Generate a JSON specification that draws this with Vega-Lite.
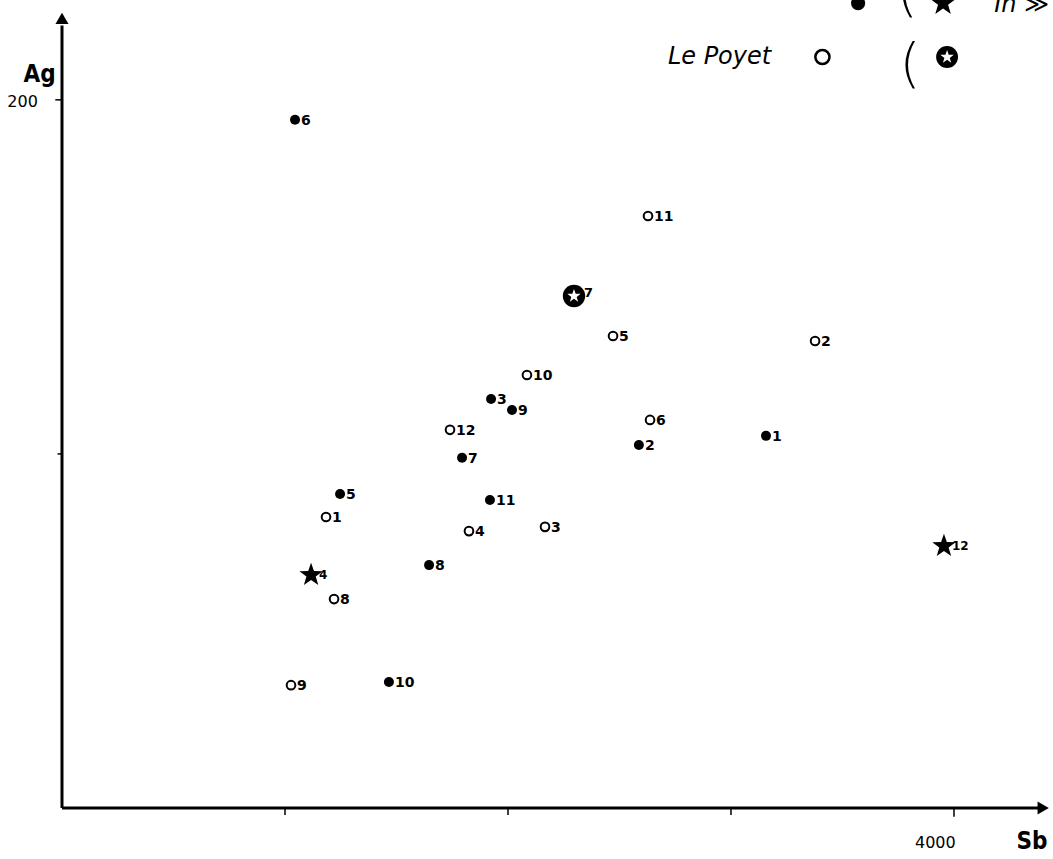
{
  "$schema": "https://vega.github.io/schema/vega-lite/v6.json",
  "width": 1053,
  "height": 859,
  "autosize": {"type": "none"},
  "padding": 0,
  "background": "white",
  "config": {"view": {"stroke": null}},
  "datasets": {
    "points": [
      {"grp": "C", "lab": "1", "sym": "dot", "sb": 3157, "ag": 105.1},
      {"grp": "C", "lab": "2", "sym": "dot", "sb": 2587, "ag": 102.5},
      {"grp": "C", "lab": "3", "sym": "dot", "sb": 1924, "ag": 115.5},
      {"grp": "C", "lab": "4", "sym": "star", "sb": 1117, "ag": 65.8},
      {"grp": "C", "lab": "5", "sym": "dot", "sb": 1247, "ag": 88.7},
      {"grp": "C", "lab": "6", "sym": "dot", "sb": 1045, "ag": 194.4},
      {"grp": "C", "lab": "7", "sym": "dot", "sb": 1794, "ag": 98.9},
      {"grp": "C", "lab": "8", "sym": "dot", "sb": 1646, "ag": 68.6},
      {"grp": "C", "lab": "9", "sym": "dot", "sb": 2018, "ag": 112.4},
      {"grp": "C", "lab": "10", "sym": "dot", "sb": 1466, "ag": 35.6},
      {"grp": "C", "lab": "11", "sym": "dot", "sb": 1919, "ag": 87.0},
      {"grp": "C", "lab": "12", "sym": "star", "sb": 3955, "ag": 74.0},
      {"grp": "P", "lab": "1", "sym": "ring", "sb": 1184, "ag": 82.2},
      {"grp": "P", "lab": "2", "sym": "ring", "sb": 3377, "ag": 131.9},
      {"grp": "P", "lab": "3", "sym": "ring", "sb": 2166, "ag": 79.4},
      {"grp": "P", "lab": "4", "sym": "ring", "sb": 1825, "ag": 78.2},
      {"grp": "P", "lab": "5", "sym": "ring", "sb": 2471, "ag": 133.3},
      {"grp": "P", "lab": "6", "sym": "ring", "sb": 2637, "ag": 109.6},
      {"grp": "P", "lab": "7", "sym": "bigstar", "sb": 2296, "ag": 144.6},
      {"grp": "P", "lab": "8", "sym": "ring", "sb": 1220, "ag": 59.0},
      {"grp": "P", "lab": "9", "sym": "ring", "sb": 1027, "ag": 34.7},
      {"grp": "P", "lab": "10", "sym": "ring", "sb": 2085, "ag": 122.3},
      {"grp": "P", "lab": "11", "sym": "ring", "sb": 2628, "ag": 167.2},
      {"grp": "P", "lab": "12", "sym": "ring", "sb": 1740, "ag": 106.8}
    ],
    "axes": [
      {"sb": 0, "ag": 0, "sb2": 4380, "ag2": 0},
      {"sb": 0, "ag": 0, "sb2": 0, "ag2": 221}
    ],
    "ticks": [
      {"sb": 1000, "ag": 0, "sb2": 1000, "ag2": -2},
      {"sb": 2000, "ag": 0, "sb2": 2000, "ag2": -2},
      {"sb": 3000, "ag": 0, "sb2": 3000, "ag2": -2},
      {"sb": 4000, "ag": 0, "sb2": 4000, "ag2": -2.5},
      {"sb": 0, "ag": 200, "sb2": -30, "ag2": 200},
      {"sb": 0, "ag": 100, "sb2": -20, "ag2": 100}
    ],
    "arrows": [
      {"sb": 4400, "ag": 0, "shape": "triangle-right"},
      {"sb": 0, "ag": 223, "shape": "triangle-up"}
    ],
    "texts": [
      {"sb": -100, "ag": 207, "t": "Ag", "kind": "axis"},
      {"sb": 4350, "ag": -9.5, "t": "Sb", "kind": "axis"},
      {"sb": -245, "ag": 199.3, "t": "200", "kind": "tick"},
      {"sb": 3825, "ag": -9.8, "t": "4000", "kind": "tick"}
    ],
    "legend": [
      {"sb": 2717, "ag": 212.0, "t": "Le Poyet", "kind": "name"},
      {"sb": 3803, "ag": 209.5, "t": "(", "kind": "paren"},
      {"sb": 3790, "ag": 229.5, "t": "(", "kind": "paren"},
      {"sb": 4180, "ag": 226.8, "t": "In ≫", "kind": "name"}
    ],
    "legendsyms": [
      {"sb": 3410, "ag": 212.1, "sym": "ring"},
      {"sb": 3570, "ag": 227.3, "sym": "dot"},
      {"sb": 3951, "ag": 227.3, "sym": "star"},
      {"sb": 3969, "ag": 212.1, "sym": "bigstar"}
    ]
  },
  "encoding": {
    "x": {"field": "sb", "type": "quantitative", "scale": {"domain": [-278, 4444], "nice": false, "zero": false}, "axis": null},
    "y": {"field": "ag", "type": "quantitative", "scale": {"domain": [-14.4, 228.2], "nice": false, "zero": false}, "axis": null}
  },
  "layer": [
    {
      "data": {"name": "axes"},
      "mark": {"type": "rule", "color": "black", "strokeWidth": 3},
      "encoding": {"x2": {"field": "sb2"}, "y2": {"field": "ag2"}}
    },
    {
      "data": {"name": "ticks"},
      "mark": {"type": "rule", "color": "black", "strokeWidth": 1.5},
      "encoding": {"x2": {"field": "sb2"}, "y2": {"field": "ag2"}}
    },
    {
      "data": {"name": "arrows"},
      "mark": {"type": "point", "filled": true, "color": "black", "size": 170, "opacity": 1},
      "encoding": {"shape": {"field": "shape", "type": "nominal", "scale": null}}
    },
    {
      "data": {"name": "texts"},
      "transform": [{"filter": "datum.kind == 'axis'"}],
      "mark": {"type": "text", "font": "DejaVu Sans Condensed", "fontWeight": "bold", "fontSize": 24, "align": "center", "baseline": "middle", "color": "black"},
      "encoding": {"text": {"field": "t"}}
    },
    {
      "data": {"name": "texts"},
      "transform": [{"filter": "datum.kind == 'tick'"}],
      "mark": {"type": "text", "font": "DejaVu Sans", "fontSize": 16, "align": "left", "baseline": "middle", "color": "black"},
      "encoding": {"text": {"field": "t"}}
    },
    {
      "data": {"name": "legend"},
      "transform": [{"filter": "datum.kind == 'name'"}],
      "mark": {"type": "text", "font": "DejaVu Sans", "fontStyle": "italic", "fontSize": 24, "align": "left", "baseline": "middle", "color": "black"},
      "encoding": {"text": {"field": "t"}}
    },
    {
      "data": {"name": "legend"},
      "transform": [{"filter": "datum.kind == 'paren'"}],
      "mark": {"type": "text", "font": "DejaVu Sans", "fontWeight": "lighter", "fontSize": 54, "align": "center", "baseline": "middle", "color": "black"},
      "encoding": {"text": {"field": "t"}}
    },
    {
      "data": {"name": "legendsyms"},
      "transform": [{"filter": "datum.sym == 'ring'"}],
      "mark": {"type": "point", "shape": "circle", "filled": false, "color": "black", "strokeWidth": 2.5, "size": 200, "opacity": 1}
    },
    {
      "data": {"name": "legendsyms"},
      "transform": [{"filter": "datum.sym == 'dot'"}],
      "mark": {"type": "point", "shape": "circle", "filled": true, "color": "black", "size": 200, "opacity": 1}
    },
    {
      "data": {"name": "legendsyms"},
      "transform": [{"filter": "datum.sym == 'star'"}],
      "mark": {"type": "point", "shape": "M0,-1L0.235,-0.324L0.951,-0.309L0.380,0.124L0.588,0.809L0,0.4L-0.588,0.809L-0.380,0.124L-0.951,-0.309L-0.235,-0.324Z", "filled": true, "color": "black", "size": 700, "opacity": 1}
    },
    {
      "data": {"name": "legendsyms"},
      "transform": [{"filter": "datum.sym == 'bigstar'"}],
      "mark": {"type": "point", "shape": "circle", "filled": true, "color": "black", "size": 480, "opacity": 1}
    },
    {
      "data": {"name": "legendsyms"},
      "transform": [{"filter": "datum.sym == 'bigstar'"}],
      "mark": {"type": "point", "shape": "M0,-1L0.235,-0.324L0.951,-0.309L0.380,0.124L0.588,0.809L0,0.4L-0.588,0.809L-0.380,0.124L-0.951,-0.309L-0.235,-0.324Z", "filled": true, "color": "white", "size": 200, "opacity": 1}
    },
    {
      "data": {"name": "points"},
      "transform": [{"filter": "datum.sym == 'dot'"}],
      "mark": {"type": "point", "shape": "circle", "filled": true, "color": "black", "size": 100, "opacity": 1}
    },
    {
      "data": {"name": "points"},
      "transform": [{"filter": "datum.sym == 'ring'"}],
      "mark": {"type": "point", "shape": "circle", "filled": false, "color": "black", "strokeWidth": 2, "size": 75, "opacity": 1}
    },
    {
      "data": {"name": "points"},
      "transform": [{"filter": "datum.sym == 'star'"}],
      "mark": {"type": "point", "shape": "M0,-1L0.235,-0.324L0.951,-0.309L0.380,0.124L0.588,0.809L0,0.4L-0.588,0.809L-0.380,0.124L-0.951,-0.309L-0.235,-0.324Z", "filled": true, "color": "black", "size": 600, "opacity": 1}
    },
    {
      "data": {"name": "points"},
      "transform": [{"filter": "datum.sym == 'bigstar'"}],
      "mark": {"type": "point", "shape": "circle", "filled": true, "color": "black", "size": 500, "opacity": 1}
    },
    {
      "data": {"name": "points"},
      "transform": [{"filter": "datum.sym == 'bigstar'"}],
      "mark": {"type": "point", "shape": "M0,-1L0.235,-0.324L0.951,-0.309L0.380,0.124L0.588,0.809L0,0.4L-0.588,0.809L-0.380,0.124L-0.951,-0.309L-0.235,-0.324Z", "filled": true, "color": "white", "size": 200, "opacity": 1}
    },
    {
      "data": {"name": "points"},
      "transform": [{"filter": "datum.sym == 'dot' || datum.sym == 'ring'"}],
      "mark": {"type": "text", "font": "DejaVu Sans", "fontWeight": "bold", "fontSize": 14, "align": "left", "baseline": "middle", "dx": 6, "dy": 1, "color": "black"},
      "encoding": {"text": {"field": "lab"}}
    },
    {
      "data": {"name": "points"},
      "transform": [{"filter": "datum.sym == 'star'"}],
      "mark": {"type": "text", "font": "DejaVu Sans", "fontWeight": "bold", "fontSize": 12, "align": "left", "baseline": "middle", "dx": 8, "dy": 0, "color": "black"},
      "encoding": {"text": {"field": "lab"}}
    },
    {
      "data": {"name": "points"},
      "transform": [{"filter": "datum.sym == 'bigstar'"}],
      "mark": {"type": "text", "font": "DejaVu Sans", "fontWeight": "bold", "fontSize": 13, "align": "left", "baseline": "middle", "dx": 10, "dy": -3, "color": "black"},
      "encoding": {"text": {"field": "lab"}}
    }
  ]
}
